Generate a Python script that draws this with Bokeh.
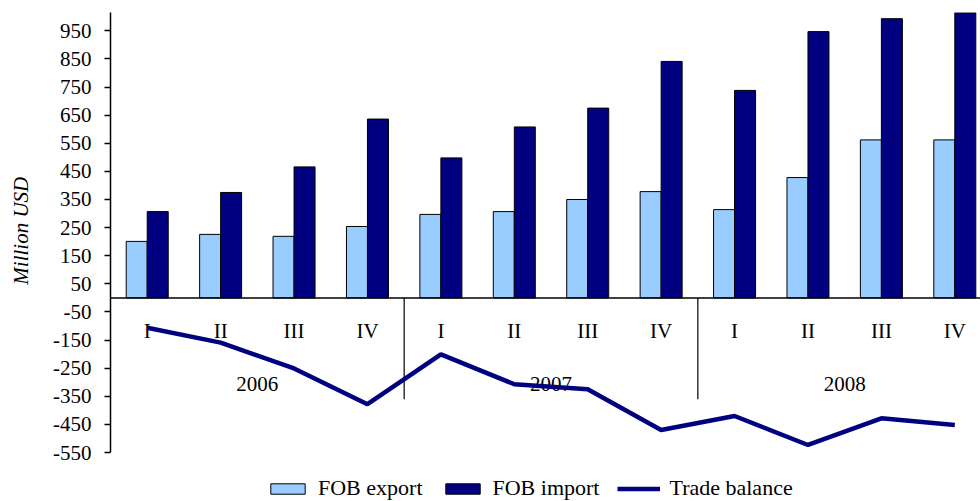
from bokeh.plotting import figure
from bokeh.models import Range1d, FixedTicker, Span, Legend, LegendItem, ColumnDataSource
from bokeh.core.properties import value
from bokeh.embed import file_html
from bokeh.resources import INLINE

# Quarterly trade data, million USD
years = ["2006", "2007", "2008"]
quarters = ["I", "II", "III", "IV"]
fob_export = [201, 226, 219, 254, 297, 307, 350, 378, 314, 428, 562, 562]
fob_import = [307, 375, 466, 636, 498, 608, 675, 841, 738, 947, 993, 1014]
trade_balance = [-106, -159, -251, -378, -201, -307, -325, -470, -420, -523, -428, -452]
y_ticks = list(range(-550, 1000, 100))

FONT = "'Liberation Serif', serif"
LIGHT = "#99CCFF"
NAVY = "#000080"

n = len(fob_export)
centers = [i + 0.5 for i in range(n)]
bar_w = 0.286

# the frame runs to the bottom edge so the legend can sit under the value axis
p = figure(width=980, height=501, output_backend="svg", toolbar_location=None,
           x_range=Range1d(0, 11.85), y_range=Range1d(-724, 1015),
           min_border_left=110, min_border_right=0, min_border_top=12,
           min_border_bottom=0)
p.outline_line_color = None
p.xgrid.visible = False
p.ygrid.visible = False
p.xaxis.visible = False

ax = p.yaxis[0]
ax.bounds = (-550, 1015)
ax.ticker = FixedTicker(ticks=y_ticks)
ax.major_label_overrides = {t: str(t) for t in y_ticks}
ax.major_tick_in = 0
ax.major_tick_out = 6
ax.minor_tick_line_color = None
ax.axis_line_color = "black"
ax.axis_line_width = 1.5
ax.major_tick_line_width = 1.5
ax.major_label_text_font = FONT
ax.major_label_text_font_size = "21px"
ax.major_label_text_color = "black"
ax.major_label_standoff = 13
# leading no-break spaces lift the title so it centres on the drawn axis span
ax.axis_label = "\u00a0" * 10 + "Million USD"
ax.axis_label_text_font = FONT
ax.axis_label_text_font_size = "21px"
ax.axis_label_text_font_style = "italic"
ax.axis_label_text_color = "black"
ax.axis_label_standoff = 17

src = ColumnDataSource(dict(
    xe=[c - bar_w / 2 for c in centers],
    xi=[c + bar_w / 2 for c in centers],
    exp=fob_export, imp=fob_import, x=centers, bal=trade_balance,
))

r_exp = p.vbar(x="xe", top="exp", bottom=0, width=bar_w, source=src,
               fill_color=LIGHT, line_color="black", line_width=1)
r_imp = p.vbar(x="xi", top="imp", bottom=0, width=bar_w, source=src,
               fill_color=NAVY, line_color="black", line_width=1)

# category axis drawn along the zero line, with year separators
p.add_layout(Span(location=0, dimension="width", line_color="black", line_width=1.5))
p.segment(x0=[4, 8], x1=[4, 8], y0=[0, 0], y1=[-360, -360],
          line_color="black", line_width=1.2)

q_labels = quarters * len(years)
p.text(x=centers, y=[-116] * n, text=q_labels, text_font=value(FONT),
       text_font_size="21px", text_align="center", text_baseline="middle",
       text_color="black")
p.text(x=[2, 6, 10], y=[-305] * 3, text=years, text_font=value(FONT),
       text_font_size="21px", text_align="center", text_baseline="middle",
       text_color="black")

r_bal = p.line(x="x", y="bal", source=src, line_color=NAVY, line_width=4.5)

legend = Legend(items=[
    LegendItem(label="FOB export", renderers=[r_exp]),
    LegendItem(label="FOB import", renderers=[r_imp]),
    LegendItem(label="Trade balance", renderers=[r_bal]),
], location=(156, 0), orientation="horizontal",
    label_text_font=FONT, label_text_font_size="22px", label_text_color="black",
    label_height=22, glyph_width=43, glyph_height=13, spacing=18, label_standoff=9,
    background_fill_alpha=0, border_line_color=None, padding=0, margin=0)
p.add_layout(legend, "center")

open("out.html", "w").write(file_html(p, INLINE))
